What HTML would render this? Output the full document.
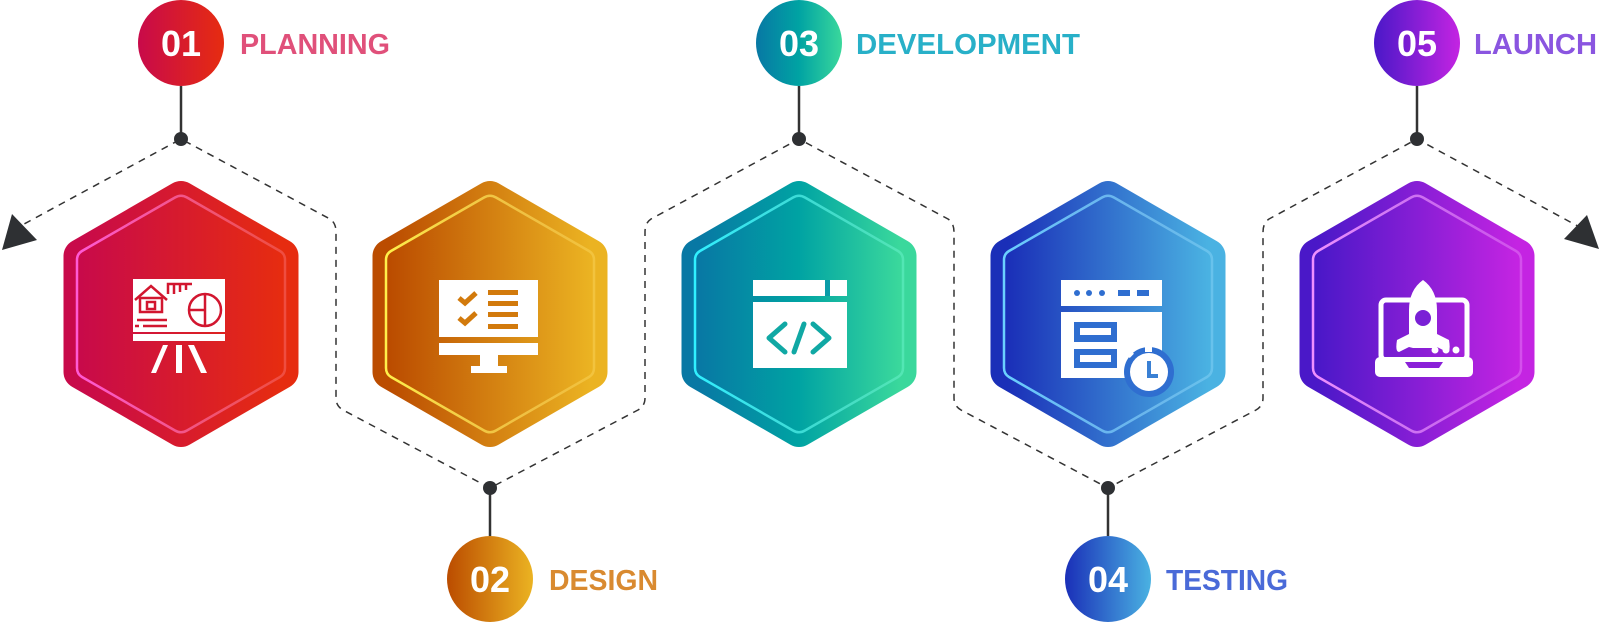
<!DOCTYPE html>
<html><head><meta charset="utf-8"><style>
html,body{margin:0;padding:0;background:#fff;}
svg{display:block;}
text{font-family:"Liberation Sans",sans-serif;}
</style></head><body>
<svg width="1600" height="623" viewBox="0 0 1600 623" xmlns="http://www.w3.org/2000/svg">
<defs>
<linearGradient id="g1" x1="0" x2="1" y1="0" y2="0"><stop offset="0" stop-color="#c80a4a"/><stop offset="1" stop-color="#e62c10"/></linearGradient>
<linearGradient id="g2" x1="0" x2="1" y1="0" y2="0"><stop offset="0" stop-color="#bb4c00"/><stop offset="1" stop-color="#ebb322"/></linearGradient>
<linearGradient id="g3" x1="0" x2="1" y1="0" y2="0"><stop offset="0" stop-color="#0878a4"/><stop offset="0.5" stop-color="#00a3a3"/><stop offset="1" stop-color="#3ad89c"/></linearGradient>
<linearGradient id="g4" x1="0" x2="1" y1="0" y2="0"><stop offset="0" stop-color="#1a2fb8"/><stop offset="1" stop-color="#4ab2e2"/></linearGradient>
<linearGradient id="g5" x1="0" x2="1" y1="0" y2="0"><stop offset="0" stop-color="#4a18c8"/><stop offset="1" stop-color="#c424e2"/></linearGradient>
<linearGradient id="b1" x1="0" x2="1"><stop offset="0" stop-color="#ff5ad6"/><stop offset="1" stop-color="#ff8a9a" stop-opacity="0.35"/></linearGradient>
<linearGradient id="b2" x1="0" x2="1"><stop offset="0" stop-color="#fff04a"/><stop offset="1" stop-color="#ffe070" stop-opacity="0.35"/></linearGradient>
<linearGradient id="b3" x1="0" x2="1"><stop offset="0" stop-color="#30f0ff"/><stop offset="1" stop-color="#80ffe0" stop-opacity="0.35"/></linearGradient>
<linearGradient id="b4" x1="0" x2="1"><stop offset="0" stop-color="#6ad0ff"/><stop offset="1" stop-color="#a0e0ff" stop-opacity="0.35"/></linearGradient>
<linearGradient id="b5" x1="0" x2="1"><stop offset="0" stop-color="#f090ff"/><stop offset="1" stop-color="#f0a0ff" stop-opacity="0.35"/></linearGradient>
<polygon id="hexo" points="0,-116 100.5,-58 100.5,58 0,116 -100.5,58 -100.5,-58"/>
<path id="hexi" d="M-6,-116.5 Q0,-120 6,-116.5 L99,-63 Q104,-60 104,-54 L104,54 Q104,60 99,63 L6,116.5 Q0,120 -6,116.5 L-99,63 Q-104,60 -104,54 L-104,-54 Q-104,-60 -99,-63 Z"/>
</defs>

<path d="M13,230 L181,139 L330,219 Q336,223 336,232 L336,398 Q336,406 343,410 L490,488 L638,410 Q645,406 645,398 L645,232 Q645,223 651,219 L799,139 L948,219 Q954,223 954,232 L954,398 Q954,406 961,410 L1108,488 L1256,410 Q1263,406 1263,398 L1263,232 Q1263,223 1269,219 L1417,139 L1585,230" fill="none" stroke="#333" stroke-width="1.5" stroke-dasharray="7 6"/>
<polygon points="2,250 12,214 37,240" fill="#2e3033"/>
<polygon points="1587,215 1599,249 1564,239" fill="#2e3033"/>

<g stroke="#333" stroke-width="2.5">
<line x1="181" y1="86" x2="181" y2="139"/><line x1="799" y1="86" x2="799" y2="139"/><line x1="1417" y1="86" x2="1417" y2="139"/>
<line x1="490" y1="488" x2="490" y2="536"/><line x1="1108" y1="488" x2="1108" y2="536"/>
</g>
<g fill="#2e3033">
<circle cx="181" cy="139" r="7"/><circle cx="799" cy="139" r="7"/><circle cx="1417" cy="139" r="7"/>
<circle cx="490" cy="488" r="7"/><circle cx="1108" cy="488" r="7"/>
</g>

<circle cx="181" cy="43" r="43" fill="url(#g1)"/>
<circle cx="490" cy="579" r="43" fill="url(#g2)"/>
<circle cx="799" cy="43" r="43" fill="url(#g3)"/>
<circle cx="1108" cy="579" r="43" fill="url(#g4)"/>
<circle cx="1417" cy="43" r="43" fill="url(#g5)"/>
<g fill="#fff" font-size="36" font-weight="bold" text-anchor="middle">
<text x="181" y="56">01</text><text x="490" y="592">02</text><text x="799" y="56">03</text><text x="1108" y="592">04</text><text x="1417" y="56">05</text>
</g>
<g font-size="29" font-weight="bold">
<text x="240" y="54" fill="#e0507a" textLength="150" lengthAdjust="spacingAndGlyphs">PLANNING</text>
<text x="549" y="590" fill="#d98a30" textLength="109" lengthAdjust="spacingAndGlyphs">DESIGN</text>
<text x="856" y="54" fill="#28b0c8" textLength="224" lengthAdjust="spacingAndGlyphs">DEVELOPMENT</text>
<text x="1166" y="590" fill="#4a6ad8" textLength="122" lengthAdjust="spacingAndGlyphs">TESTING</text>
<text x="1474" y="54" fill="#8a55e0" textLength="123" lengthAdjust="spacingAndGlyphs">LAUNCH</text>
</g>

<g transform="translate(181,314)">
<use href="#hexo" fill="url(#g1)" stroke="url(#g1)" stroke-width="34" stroke-linejoin="round"/>
<use href="#hexi" fill="none" stroke="url(#b1)" stroke-width="2.5"/>
<rect x="-48" y="-35" width="92" height="53" fill="#fff"/>
<rect x="-48" y="20" width="92" height="7" fill="#fff"/>
<polygon points="-18,31 -13,31 -25,59 -30,59" fill="#fff"/>
<rect x="-5" y="31" width="6" height="28" fill="#fff"/>
<polygon points="7,31 13,31 26,59 20,59" fill="#fff"/>
<g fill="none" stroke="#d2162f" stroke-width="2.5">
<polyline points="-46,-14 -30,-28 -14,-14"/>
<rect x="-41" y="-16" width="22" height="14"/>
<rect x="-34" y="-12" width="8" height="7"/>
<circle cx="24" cy="-4" r="16"/>
<line x1="24" y1="-20" x2="24" y2="12"/><line x1="8" y1="-4" x2="24" y2="-4"/>
<polyline points="-13,-20 -13,-30 11,-30"/>
<line x1="-7" y1="-30" x2="-7" y2="-20"/><line x1="-1" y1="-30" x2="-1" y2="-22"/><line x1="5" y1="-30" x2="5" y2="-24"/>
<line x1="-44" y1="6" x2="-14" y2="6"/><line x1="-38" y1="12" x2="-14" y2="12"/><line x1="-46" y1="12" x2="-42" y2="12"/>
</g>
</g>

<g transform="translate(490,314)">
<use href="#hexo" fill="url(#g2)" stroke="url(#g2)" stroke-width="34" stroke-linejoin="round"/>
<use href="#hexi" fill="none" stroke="url(#b2)" stroke-width="2.5"/>
<rect x="-51" y="-34" width="99" height="57" fill="#fff"/>
<rect x="-51" y="29" width="99" height="12" fill="#fff"/>
<rect x="-10" y="41" width="18" height="12" fill="#fff"/>
<rect x="-19" y="52" width="36" height="7" fill="#fff"/>
<g fill="none" stroke="#d27a0c" stroke-width="5">
<polyline points="-31,-16 -25,-11 -14,-21"/>
<polyline points="-31,4 -25,9 -14,-1"/>
</g>
<g fill="#d27a0c">
<rect x="-2" y="-24" width="30" height="5"/><rect x="-2" y="-13" width="30" height="5"/>
<rect x="-2" y="-2" width="30" height="5"/><rect x="-2" y="10" width="30" height="5"/>
</g>
</g>

<g transform="translate(799,314)">
<use href="#hexo" fill="url(#g3)" stroke="url(#g3)" stroke-width="34" stroke-linejoin="round"/>
<use href="#hexi" fill="none" stroke="url(#b3)" stroke-width="2.5"/>
<rect x="-46" y="-34" width="94" height="16" fill="#fff"/>
<rect x="-46" y="-12" width="94" height="66" fill="#fff"/>
<rect x="26" y="-34" width="5" height="16" fill="#0a9ca8"/>
<g fill="none" stroke="#10a8a4" stroke-width="5" stroke-linecap="round" stroke-linejoin="round">
<polyline points="-14,10 -30,24 -14,38"/>
<line x1="5" y1="10" x2="-5" y2="38"/>
<polyline points="14,10 30,24 14,38"/>
</g>
</g>

<g transform="translate(1108,314)">
<use href="#hexo" fill="url(#g4)" stroke="url(#g4)" stroke-width="34" stroke-linejoin="round"/>
<use href="#hexi" fill="none" stroke="url(#b4)" stroke-width="2.5"/>
<rect x="-47" y="-34" width="101" height="26" fill="#fff"/>
<rect x="-47" y="-2" width="101" height="66" fill="#fff"/>
<g fill="#2f6ed0">
<circle cx="-31" cy="-21" r="3"/><circle cx="-19" cy="-21" r="3"/><circle cx="-6" cy="-21" r="3"/>
<rect x="10" y="-24" width="12" height="6"/><rect x="29" y="-24" width="12" height="6"/>
<rect x="-34" y="8" width="43" height="20"/><rect x="-34" y="35" width="43" height="19"/>
<circle cx="41" cy="58" r="25"/>
</g>
<rect x="-28" y="14" width="31" height="7" fill="#fff"/><rect x="-28" y="41" width="31" height="7" fill="#fff"/>
<circle cx="41" cy="58" r="19" fill="#fff"/>
<rect x="37" y="30" width="7" height="8" fill="#fff"/>
<rect x="18" y="36" width="6" height="7" fill="#fff" transform="rotate(-45 21 39)"/>
<polyline points="41,47 41,62 50,62" fill="none" stroke="#3a80d4" stroke-width="4"/>
</g>

<g transform="translate(1417,314)">
<use href="#hexo" fill="url(#g5)" stroke="url(#g5)" stroke-width="34" stroke-linejoin="round"/>
<use href="#hexi" fill="none" stroke="url(#b5)" stroke-width="2.5"/>
<rect x="-36" y="-14" width="86" height="60" rx="5" fill="none" stroke="#fff" stroke-width="5"/>
<rect x="-42" y="43" width="98" height="20" rx="5" fill="#fff"/>
<polygon points="-12,48 26,48 22,54 -8,54" fill="#8a20d8"/>
<path d="M6,-34 Q20,-24 20,-4 L20,20 L32,26 Q34,38 30,38 L20,33 L16,34 L-4,34 L-8,33 L-18,38 Q-22,38 -20,26 L-8,20 L-8,-4 Q-8,-24 6,-34 Z" fill="#fff"/>
<circle cx="6" cy="4" r="8" fill="#7a20d6"/>
<g fill="#fff"><circle cx="18" cy="36" r="3.5"/><circle cx="29" cy="36" r="3.5"/><circle cx="39" cy="36" r="3.5"/></g>
</g>
</svg>
</body></html>
